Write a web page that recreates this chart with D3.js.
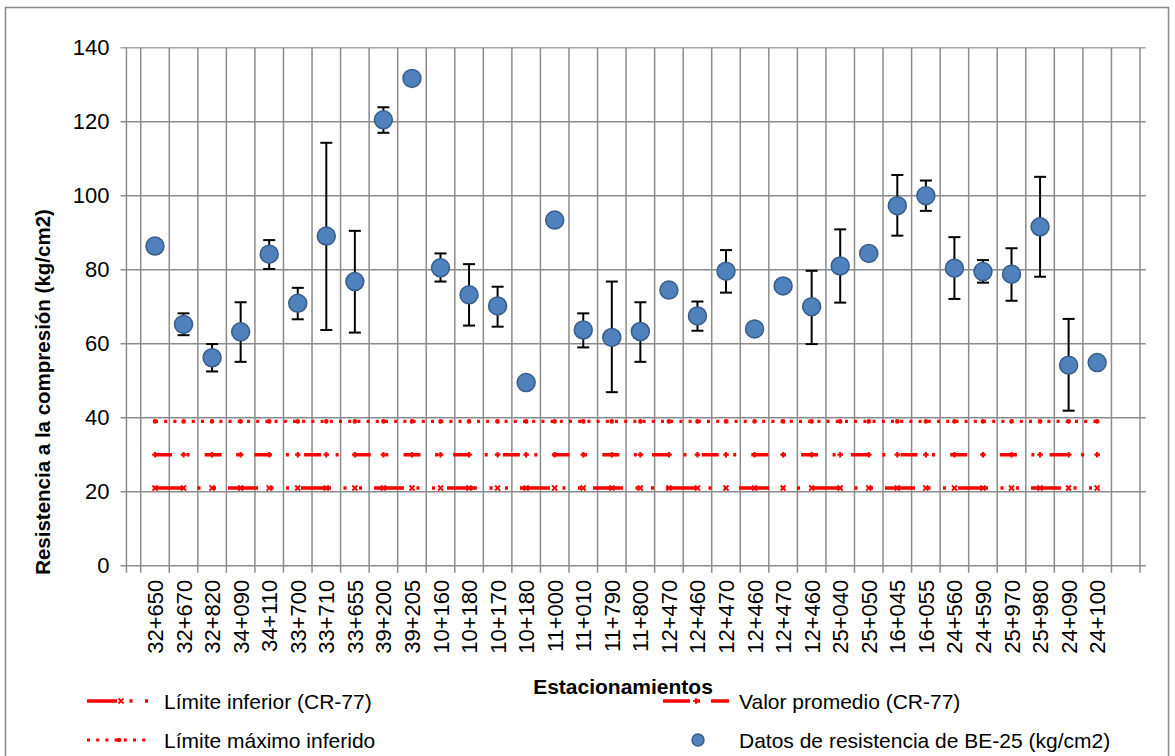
<!DOCTYPE html>
<html>
<head>
<meta charset="utf-8">
<script src="https://cdn.jsdelivr.net/npm/d3@7"></script>
<style>
  html, body { margin: 0; padding: 0; background: #fff; }
  svg { display: block; }
  text { font-family: "Liberation Sans", Arial, sans-serif; fill: #000; }
</style>
</head>
<body>
<svg id="chart" width="1175" height="756"></svg>
<script>
// ---------- DATA ----------
const categories = ["32+650","32+670","32+820","34+090","34+110","33+700","33+710","33+655","39+200","39+205",
  "10+160","10+180","10+170","10+180","11+000","11+010","11+790","11+800","12+470","12+460",
  "12+470","12+460","12+470","12+460","25+040","25+050","16+045","16+055","24+560","24+590",
  "25+970","25+980","24+090","24+100"];
const resistencia = [86.4,65.2,56.2,63.2,84.2,70.9,89.1,76.8,120.5,131.7,
  80.5,73.2,70.2,49.5,93.4,63.7,61.7,63.3,74.5,67.5,
  79.6,64.0,75.6,70.0,81.0,84.4,97.3,100.0,80.4,79.5,
  78.8,91.6,54.2,54.9];
const errorMin = [null,62.3,52.5,55.1,80.2,66.6,63.7,63.0,117.0,null,
  76.8,64.9,64.6,null,null,59.0,46.9,55.1,null,63.5,
  73.8,null,null,59.9,71.1,null,89.2,95.9,72.1,76.5,
  71.6,78.1,41.9,null];
const errorMax = [null,68.2,59.9,71.2,88.0,75.1,114.3,90.5,123.9,null,
  84.4,81.5,75.4,null,null,68.2,76.8,71.2,null,71.4,
  85.3,null,null,79.7,90.9,null,105.6,104.1,88.8,82.6,
  85.8,105.1,66.7,null];
const limiteInferior = 21;    // Límite inferior (CR-77)
const valorPromedio = 30;     // Valor promedio (CR-77)
const limiteMaximo = 39;      // Límite máximo inferido
const yTicks = [0,20,40,60,80,100,120,140];

// ---------- LAYOUT ----------
const svg = d3.select("#chart");
const W = 1175, H = 756;
const red = "#ff0000";
const gridColor = "#8c8c8c";

svg.append("rect").attr("x",0).attr("y",0).attr("width",W).attr("height",H).attr("fill","#fff");
svg.append("rect").attr("x",5.5).attr("y",7.5).attr("width",1163).attr("height",770)
  .attr("fill","#fff").attr("stroke","#8a8a8a").attr("stroke-width",1.5);

const x = d3.scaleLinear().domain([-1, 34.7]).range([126.45, 1145.7]);
const y = d3.scaleLinear().domain([0, 140]).range([565.7, 47.7]);
const plotLeft = x(-1), plotRight = x(34.7);

// horizontal gridlines
svg.append("g").selectAll("line").data(yTicks).join("line")
  .attr("x1", plotLeft - 6).attr("x2", plotRight)
  .attr("y1", d => y(d)).attr("y2", d => y(d))
  .attr("stroke", d => d === 140 ? "#a6a6a6" : gridColor).attr("stroke-width", 1.5);

// vertical gridlines (category boundaries) with tick extension below axis
const bounds = d3.range(-0.5, categories.length + 1, 1);
svg.append("g").selectAll("line").data(bounds).join("line")
  .attr("x1", d => x(d)).attr("x2", d => x(d))
  .attr("y1", y(140)).attr("y2", y(0) + 7)
  .attr("stroke", gridColor).attr("stroke-width", 1.5);

// y axis line
svg.append("line").attr("x1", plotLeft).attr("x2", plotLeft)
  .attr("y1", y(140)).attr("y2", y(0) + 7).attr("stroke", gridColor).attr("stroke-width", 1.5);

// y axis labels
const yAxis = d3.axisLeft(y).tickValues(yTicks).tickSize(0).tickPadding(0);
const gy = svg.append("g").attr("transform", `translate(${plotLeft - 17},0)`).call(yAxis);
gy.select(".domain").remove();
gy.selectAll("text").style("font-size","22px").attr("font-family","Liberation Sans, Arial, sans-serif").attr("fill","#000");

// x axis labels (rotated)
const xAxis = d3.axisBottom(x).tickValues(d3.range(categories.length)).tickFormat(i => categories[i]).tickSize(0);
const gx = svg.append("g").attr("transform", `translate(0,${y(0)})`).call(xAxis);
gx.select(".domain").remove();
gx.selectAll("text")
  .style("font-size","22px").attr("font-family","Liberation Sans, Arial, sans-serif").attr("fill","#000")
  .attr("text-anchor","end").attr("dominant-baseline","central")
  .attr("transform","rotate(-90)").attr("x", -14).attr("y", 0).attr("dy", null);

// axis titles
svg.append("text").attr("transform", `translate(50,392) rotate(-90)`)
  .attr("text-anchor","middle").style("font-size","20.5px").style("font-weight","bold")
  .text("Resistencia a la compresión (kg/cm2)");
svg.append("text").attr("x", 623).attr("y", 686).attr("text-anchor","middle")
  .attr("dominant-baseline","central")
  .style("font-size","21px").style("font-weight","bold").text("Estacionamientos");

// ---------- reference lines ----------
const idx = d3.range(categories.length);
const x0 = x(0), x1 = x(categories.length - 1);
const dashInf = "30,12.5,3,12.5,3,12";
const dashProm = "17,14.5,3,15.2";
const dashMax = "3,6.2";

function crossPath(cx, cy, s) {
  return `M${cx-s},${cy-s}L${cx+s},${cy+s}M${cx-s},${cy+s}L${cx+s},${cy-s}`;
}
function plusPath(cx, cy, s) {
  return `M${cx-s},${cy}L${cx+s},${cy}M${cx},${cy-s}L${cx},${cy+s}`;
}

// Límite máximo inferido (39)
svg.append("line").attr("x1", x0).attr("x2", x1).attr("y1", y(limiteMaximo)).attr("y2", y(limiteMaximo))
  .attr("stroke", red).attr("stroke-width", 3.2).attr("stroke-dasharray", dashMax);
svg.append("g").selectAll("circle").data(idx).join("circle")
  .attr("cx", d => x(d)).attr("cy", y(limiteMaximo)).attr("r", 2.3).attr("fill", red);

// Valor promedio (30)
svg.append("line").attr("x1", x0).attr("x2", x1).attr("y1", y(valorPromedio)).attr("y2", y(valorPromedio))
  .attr("stroke", red).attr("stroke-width", 3.5).attr("stroke-dasharray", dashProm);
svg.append("g").selectAll("path").data(idx).join("path")
  .attr("d", d => plusPath(x(d), y(valorPromedio), 2.8)).attr("stroke", red).attr("stroke-width", 2.2);

// Límite inferior (21)
svg.append("line").attr("x1", x0).attr("x2", x1).attr("y1", y(limiteInferior)).attr("y2", y(limiteInferior))
  .attr("stroke", red).attr("stroke-width", 3.5).attr("stroke-dasharray", dashInf);
svg.append("g").selectAll("path").data(idx).join("path")
  .attr("d", d => crossPath(x(d), y(limiteInferior), 2.5)).attr("stroke", red).attr("stroke-width", 1.8);

// ---------- error bars ----------
const eb = svg.append("g").attr("stroke", "#000").attr("stroke-width", 2);
const withErr = idx.filter(i => errorMin[i] != null);
eb.selectAll("line.v").data(withErr).join("line").attr("class","v")
  .attr("x1", i => x(i)).attr("x2", i => x(i))
  .attr("y1", i => y(errorMin[i])).attr("y2", i => y(errorMax[i]));
eb.selectAll("line.t").data(withErr).join("line").attr("class","t")
  .attr("x1", i => x(i) - 6).attr("x2", i => x(i) + 6)
  .attr("y1", i => y(errorMax[i])).attr("y2", i => y(errorMax[i]));
eb.selectAll("line.b").data(withErr).join("line").attr("class","b")
  .attr("x1", i => x(i) - 6).attr("x2", i => x(i) + 6)
  .attr("y1", i => y(errorMin[i])).attr("y2", i => y(errorMin[i]));

// ---------- data points ----------
svg.append("g").selectAll("circle").data(resistencia).join("circle")
  .attr("cx", (d, i) => x(i)).attr("cy", d => y(d)).attr("r", 9)
  .attr("fill", "#4f81bd").attr("stroke", "#385d8a").attr("stroke-width", 1.5);

// ---------- legend ----------
const lg = svg.append("g");
const row1 = 701, row2 = 740;
// Límite inferior
lg.append("line").attr("x1", 87).attr("x2", 151).attr("y1", row1).attr("y2", row1)
  .attr("stroke", red).attr("stroke-width", 3.5).attr("stroke-dasharray", dashInf);
lg.append("path").attr("d", crossPath(121, row1, 2.5)).attr("stroke", red).attr("stroke-width", 1.8);
lg.append("text").attr("x", 164).attr("y", row1).attr("dominant-baseline","central")
  .style("font-size","21px").text("Límite inferior (CR-77)");
// Límite máximo inferido
lg.append("line").attr("x1", 87).attr("x2", 151).attr("y1", row2).attr("y2", row2)
  .attr("stroke", red).attr("stroke-width", 3.2).attr("stroke-dasharray", dashMax);
lg.append("circle").attr("cx", 119).attr("cy", row2).attr("r", 2.3).attr("fill", red);
lg.append("text").attr("x", 164).attr("y", row2).attr("dominant-baseline","central")
  .style("font-size","21px").text("Límite máximo inferido");
// Valor promedio
lg.append("line").attr("x1", 663).attr("x2", 729).attr("y1", row1).attr("y2", row1)
  .attr("stroke", red).attr("stroke-width", 3.5).attr("stroke-dasharray", "27,7,3,11,18");
lg.append("path").attr("d", plusPath(696, row1, 2.8)).attr("stroke", red).attr("stroke-width", 2.2);
lg.append("text").attr("x", 739).attr("y", row1).attr("dominant-baseline","central")
  .style("font-size","21px").text("Valor promedio (CR-77)");
// Datos
lg.append("circle").attr("cx", 698).attr("cy", row2).attr("r", 6)
  .attr("fill", "#4f81bd").attr("stroke", "#385d8a").attr("stroke-width", 1.5);
lg.append("text").attr("x", 739).attr("y", row2).attr("dominant-baseline","central")
  .style("font-size","21px").text("Datos de resistencia de BE-25 (kg/cm2)");
</script>
</body>
</html>
